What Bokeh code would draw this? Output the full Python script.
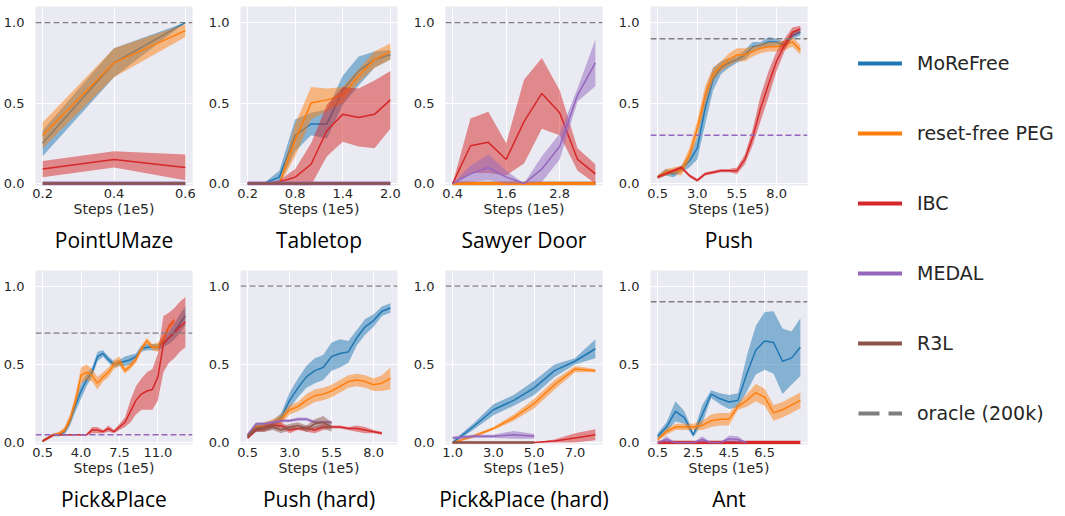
import numpy as np
from bokeh.plotting import figure
from bokeh.layouts import row, column
from bokeh.models import Range1d, Span, Title, Legend, LegendItem, NumeralTickFormatter
from bokeh.embed import file_html
from bokeh.resources import INLINE

METHODS = ["MoReFree", "reset-free PEG", "IBC", "MEDAL", "R3L"]
COLORS = {
    "MoReFree": "#1f77b4",
    "reset-free PEG": "#ff7f0e",
    "IBC": "#d62728",
    "MEDAL": "#9467bd",
    "R3L": "#8c564b",
}
ORACLE_LABEL = "oracle (200k)"
ORACLE_COLOR = "#7f7f7f"

# ---------------- PointUMaze ----------------
UMAZE_STEPS = [0.2, 0.4, 0.6]
UMAZE_TICKS = [0.2, 0.4, 0.6]
UMAZE_ORACLE = 1.0
UMAZE_MOREFREE = [0.25, 0.75, 1.00]
UMAZE_MOREFREE_STD = [0.08, 0.09, 0.0]
UMAZE_PEG = [0.30, 0.75, 0.95]
UMAZE_PEG_STD = [0.08, 0.09, 0.04]
UMAZE_IBC = [0.09, 0.15, 0.10]
UMAZE_IBC_STD = [0.05, 0.05, 0.08]
UMAZE_MEDAL = [0.0, 0.0, 0.0]
UMAZE_R3L = [0.0, 0.0, 0.0]

# ---------------- Tabletop ----------------
TABLETOP_STEPS = [0.2, 0.4, 0.6, 0.8, 1.0, 1.2, 1.4, 1.6, 1.8, 2.0]
TABLETOP_TICKS = [0.2, 0.8, 1.4, 2.0]
TABLETOP_ORACLE = None
TABLETOP_MOREFREE = [0.0, 0.0, 0.04, 0.30, 0.37, 0.37, 0.58, 0.70, 0.77, 0.80]
TABLETOP_MOREFREE_STD = [0.0, 0.0, 0.04, 0.10, 0.07, 0.09, 0.09, 0.09, 0.05, 0.03]
TABLETOP_PEG = [0.0, 0.0, 0.0, 0.27, 0.50, 0.52, 0.55, 0.67, 0.77, 0.82]
TABLETOP_PEG_STD = [0.0, 0.0, 0.01, 0.10, 0.10, 0.07, 0.05, 0.04, 0.05, 0.05]
TABLETOP_IBC = [0.0, 0.0, 0.01, 0.04, 0.12, 0.33, 0.43, 0.41, 0.43, 0.52]
TABLETOP_IBC_STD = [0.0, 0.0, 0.01, 0.05, 0.13, 0.16, 0.17, 0.18, 0.21, 0.18]
TABLETOP_MEDAL = [0.0] * 10
TABLETOP_R3L = [0.0] * 10

# ---------------- Sawyer Door ----------------
SAWYER_STEPS = [0.4, 0.8, 1.2, 1.6, 2.0, 2.4, 2.8, 3.2, 3.6]
SAWYER_TICKS = [0.4, 1.6, 2.8]
SAWYER_ORACLE = 1.0
SAWYER_MOREFREE = [0.0] * 9
SAWYER_PEG = [0.0] * 9
SAWYER_IBC = [0.0, 0.235, 0.256, 0.15, 0.385, 0.56, 0.44, 0.15, 0.06]
SAWYER_IBC_STD = [0.0, 0.17, 0.19, 0.10, 0.26, 0.22, 0.14, 0.07, 0.06]
SAWYER_MEDAL = [0.0, 0.06, 0.10, 0.04, 0.0, 0.09, 0.23, 0.55, 0.75]
SAWYER_MEDAL_STD = [0.0, 0.05, 0.08, 0.04, 0.0, 0.08, 0.08, 0.04, 0.145]

# ---------------- Push ----------------
PUSH_STEPS = [0.5, 1.0, 1.5, 2.0, 2.5, 3.0, 3.5, 4.0, 4.5, 5.0,
              5.5, 6.0, 6.5, 7.0, 7.5, 8.0, 8.5, 9.0, 9.5]
PUSH_TICKS = [0.5, 3.0, 5.5, 8.0]
PUSH_ORACLE = 0.9
PUSH_MEDAL_FINAL = 0.3
PUSH_MOREFREE = [0.04, 0.07, 0.06, 0.09, 0.14, 0.22, 0.47, 0.65, 0.72, 0.75,
                 0.77, 0.80, 0.85, 0.86, 0.88, 0.88, 0.86, 0.92, 0.94]
PUSH_MOREFREE_STD = [0.01, 0.02, 0.02, 0.02, 0.04, 0.07, 0.10, 0.07, 0.04, 0.03,
                     0.02, 0.03, 0.03, 0.02, 0.03, 0.02, 0.02, 0.02, 0.02]
PUSH_PEG = [0.04, 0.07, 0.08, 0.08, 0.18, 0.34, 0.55, 0.68, 0.73, 0.77,
            0.80, 0.80, 0.82, 0.84, 0.85, 0.85, 0.86, 0.88, 0.83]
PUSH_PEG_STD = [0.01, 0.02, 0.02, 0.03, 0.04, 0.05, 0.06, 0.04, 0.03, 0.04,
                0.04, 0.04, 0.03, 0.03, 0.03, 0.03, 0.03, 0.03, 0.03]
PUSH_IBC = [0.04, 0.06, 0.08, 0.10, 0.05, 0.02, 0.06, 0.07, 0.08, 0.08,
            0.08, 0.15, 0.29, 0.47, 0.62, 0.76, 0.86, 0.94, 0.96]
PUSH_IBC_STD = [0.01, 0.01, 0.01, 0.01, 0.01, 0.01, 0.01, 0.01, 0.01, 0.01,
                0.02, 0.03, 0.05, 0.08, 0.08, 0.06, 0.04, 0.03, 0.02]

# ---------------- Pick&Place ----------------
PICK_STEPS = [0.5, 1.0, 1.5, 2.0, 2.5, 3.0, 3.5, 4.0, 4.5, 5.0, 5.5, 6.0, 6.5, 7.0,
              7.5, 8.0, 8.5, 9.0, 9.5, 10.0, 10.5, 11.0, 11.5, 12.0, 12.5, 13.0, 13.5]
PICK_TICKS = [0.5, 4.0, 7.5, 11.0]
PICK_ORACLE = 0.7
PICK_MEDAL_FINAL = 0.05
PICK_MOREFREE = [0.01, 0.03, 0.05, 0.05, 0.07, 0.14, 0.24, 0.33, 0.40, 0.45, 0.55, 0.57, 0.53, 0.50,
                 0.51, 0.52, 0.53, 0.55, 0.60, 0.61, 0.61, 0.61, 0.64, 0.67, 0.71, 0.76, 0.81]
PICK_MOREFREE_STD = [0.01, 0.01, 0.01, 0.01, 0.02, 0.03, 0.04, 0.05, 0.04, 0.03, 0.03, 0.02, 0.02, 0.02,
                     0.02, 0.03, 0.03, 0.02, 0.02, 0.02, 0.02, 0.02, 0.03, 0.04, 0.05, 0.06, 0.06]
PICK_PEG = [0.01, 0.03, 0.05, 0.06, 0.08, 0.15, 0.27, 0.43, 0.45, 0.43, 0.38, 0.42, 0.45,
            0.50, 0.52, 0.46, 0.49, 0.53, 0.60, 0.65, 0.61, 0.61, 0.66, 0.74, 0.78]
PICK_PEG_STD = [0.01, 0.01, 0.01, 0.01, 0.02, 0.03, 0.04, 0.05, 0.05, 0.04, 0.04, 0.03, 0.03,
                0.03, 0.03, 0.02, 0.02, 0.02, 0.02, 0.02, 0.02, 0.03, 0.03, 0.02, 0.02]
PICK_IBC = [0.01, 0.03, 0.05, 0.05, 0.05, 0.05, 0.05, 0.05, 0.05, 0.08, 0.08, 0.07, 0.09, 0.07,
            0.10, 0.13, 0.20, 0.27, 0.31, 0.33, 0.34, 0.42, 0.63, 0.67, 0.70, 0.74, 0.77]
PICK_IBC_STD = [0.005, 0.005, 0.005, 0.005, 0.005, 0.005, 0.005, 0.005, 0.005, 0.02, 0.02, 0.01, 0.02, 0.01,
                0.02, 0.03, 0.07, 0.09, 0.10, 0.12, 0.13, 0.15, 0.18, 0.16, 0.16, 0.16, 0.16]

# ---------------- Push (hard) ----------------
PUSHH_STEPS = [0.5, 1.0, 1.5, 2.0, 2.5, 3.0, 3.5, 4.0, 4.5,
               5.0, 5.5, 6.0, 6.5, 7.0, 7.5, 8.0, 8.5, 9.0]
PUSHH_TICKS = [0.5, 3.0, 5.5, 8.0]
PUSHH_ORACLE = 1.0
PUSHH_MOREFREE = [0.04, 0.09, 0.10, 0.12, 0.16, 0.27, 0.35, 0.42, 0.46,
                  0.48, 0.55, 0.57, 0.58, 0.67, 0.74, 0.78, 0.84, 0.86]
PUSHH_MOREFREE_STD = [0.01, 0.02, 0.02, 0.02, 0.03, 0.05, 0.06, 0.07, 0.08,
                      0.08, 0.09, 0.09, 0.07, 0.05, 0.05, 0.04, 0.03, 0.03]
PUSHH_PEG = [0.05, 0.10, 0.11, 0.13, 0.15, 0.21, 0.23, 0.27, 0.30,
             0.31, 0.33, 0.36, 0.39, 0.40, 0.39, 0.37, 0.38, 0.41]
PUSHH_PEG_STD = [0.01, 0.02, 0.02, 0.02, 0.03, 0.03, 0.03, 0.04, 0.04,
                 0.04, 0.04, 0.04, 0.04, 0.04, 0.04, 0.04, 0.05, 0.07]
PUSHH_IBC = [0.03, 0.08, 0.09, 0.11, 0.11, 0.08, 0.09, 0.09, 0.08,
             0.10, 0.10, 0.10, 0.09, 0.09, 0.08, 0.07, 0.06]
PUSHH_IBC_STD = [0.01, 0.01, 0.02, 0.02, 0.02, 0.02, 0.01, 0.02, 0.02,
                 0.02, 0.01, 0.01, 0.01, 0.02, 0.02, 0.01, 0.01]
PUSHH_MEDAL = [0.05, 0.12, 0.12, 0.13, 0.14, 0.14, 0.15, 0.15, 0.13, 0.13, 0.13]
PUSHH_MEDAL_STD = [0.01, 0.01, 0.01, 0.01, 0.01, 0.01, 0.01, 0.01, 0.01, 0.01, 0.01]
PUSHH_R3L = [0.04, 0.09, 0.09, 0.10, 0.08, 0.10, 0.11, 0.09, 0.12, 0.13, 0.10]
PUSHH_R3L_STD = [0.01, 0.02, 0.02, 0.02, 0.02, 0.02, 0.02, 0.02, 0.03, 0.04, 0.03]

# ---------------- Pick&Place (hard) ----------------
PPH_STEPS = [1.0, 2.0, 3.0, 4.0, 5.0, 6.0, 7.0, 8.0]
PPH_TICKS = [1.0, 3.0, 5.0, 7.0]
PPH_ORACLE = 1.0
PPH_MOREFREE = [0.0, 0.10, 0.21, 0.27, 0.35, 0.46, 0.52, 0.60]
PPH_MOREFREE_STD = [0.01, 0.02, 0.035, 0.035, 0.045, 0.04, 0.02, 0.06]
PPH_PEG = [0.0, 0.04, 0.09, 0.16, 0.25, 0.37, 0.47, 0.46]
PPH_PEG_STD = [0.005, 0.01, 0.01, 0.02, 0.03, 0.03, 0.02, 0.01]
PPH_IBC = [0.0, 0.0, 0.0, 0.0, 0.0, 0.01, 0.03, 0.05]
PPH_IBC_STD = [0.0, 0.0, 0.0, 0.0, 0.0, 0.01, 0.03, 0.035]
PPH_MEDAL = [0.03, 0.04, 0.04, 0.05, 0.04]
PPH_MEDAL_STD = [0.01, 0.01, 0.01, 0.025, 0.015]
PPH_R3L = [0.0, 0.0, 0.0, 0.0, 0.0]

# ---------------- Ant ----------------
ANT_STEPS = [0.5, 1.0, 1.5, 2.0, 2.5, 3.0, 3.5, 4.0, 4.5,
             5.0, 5.5, 6.0, 6.5, 7.0, 7.5, 8.0, 8.5]
ANT_TICKS = [0.5, 2.5, 4.5, 6.5]
ANT_ORACLE = 0.9
ANT_MOREFREE = [0.04, 0.10, 0.20, 0.16, 0.05, 0.18, 0.31, 0.28, 0.26,
                0.27, 0.44, 0.59, 0.65, 0.64, 0.52, 0.54, 0.61]
ANT_MOREFREE_STD = [0.02, 0.03, 0.065, 0.04, 0.015, 0.06, 0.025, 0.035, 0.045,
                    0.045, 0.115, 0.155, 0.185, 0.20, 0.21, 0.17, 0.185]
ANT_PEG = [0.02, 0.07, 0.10, 0.10, 0.10, 0.11, 0.14, 0.15, 0.15,
           0.23, 0.27, 0.32, 0.29, 0.19, 0.21, 0.24, 0.27]
ANT_PEG_STD = [0.01, 0.02, 0.02, 0.02, 0.02, 0.03, 0.04, 0.04, 0.04,
               0.02, 0.04, 0.055, 0.055, 0.05, 0.05, 0.05, 0.05]
ANT_IBC = [0.0] * 17
ANT_MEDAL = [0.0, 0.02, 0.0, 0.0, 0.0, 0.02, 0.0, 0.0, 0.025, 0.02, 0.0]
ANT_MEDAL_STD = [0.0, 0.02, 0.0, 0.0, 0.0, 0.02, 0.0, 0.0, 0.02, 0.02, 0.0]

TASKS = [
    dict(title="PointUMaze", steps=UMAZE_STEPS, ticks=UMAZE_TICKS, oracle=UMAZE_ORACLE, medal_final=None,
         series=[("MoReFree", UMAZE_MOREFREE, UMAZE_MOREFREE_STD),
                 ("reset-free PEG", UMAZE_PEG, UMAZE_PEG_STD),
                 ("IBC", UMAZE_IBC, UMAZE_IBC_STD),
                 ("MEDAL", UMAZE_MEDAL, None),
                 ("R3L", UMAZE_R3L, None)]),
    dict(title="Tabletop", steps=TABLETOP_STEPS, ticks=TABLETOP_TICKS, oracle=TABLETOP_ORACLE, medal_final=None,
         series=[("MoReFree", TABLETOP_MOREFREE, TABLETOP_MOREFREE_STD),
                 ("reset-free PEG", TABLETOP_PEG, TABLETOP_PEG_STD),
                 ("IBC", TABLETOP_IBC, TABLETOP_IBC_STD),
                 ("MEDAL", TABLETOP_MEDAL, None),
                 ("R3L", TABLETOP_R3L, None)]),
    dict(title="Sawyer Door", steps=SAWYER_STEPS, ticks=SAWYER_TICKS, oracle=SAWYER_ORACLE, medal_final=None,
         series=[("MoReFree", SAWYER_MOREFREE, None),
                 ("reset-free PEG", SAWYER_PEG, None),
                 ("IBC", SAWYER_IBC, SAWYER_IBC_STD),
                 ("MEDAL", SAWYER_MEDAL, SAWYER_MEDAL_STD)]),
    dict(title="Push", steps=PUSH_STEPS, ticks=PUSH_TICKS, oracle=PUSH_ORACLE, medal_final=PUSH_MEDAL_FINAL,
         series=[("MoReFree", PUSH_MOREFREE, PUSH_MOREFREE_STD),
                 ("reset-free PEG", PUSH_PEG, PUSH_PEG_STD),
                 ("IBC", PUSH_IBC, PUSH_IBC_STD)]),
    dict(title="Pick&Place", steps=PICK_STEPS, ticks=PICK_TICKS, oracle=PICK_ORACLE, medal_final=PICK_MEDAL_FINAL,
         series=[("MoReFree", PICK_MOREFREE, PICK_MOREFREE_STD),
                 ("reset-free PEG", PICK_PEG, PICK_PEG_STD),
                 ("IBC", PICK_IBC, PICK_IBC_STD)]),
    dict(title="Push (hard)", steps=PUSHH_STEPS, ticks=PUSHH_TICKS, oracle=PUSHH_ORACLE, medal_final=None,
         series=[("MoReFree", PUSHH_MOREFREE, PUSHH_MOREFREE_STD),
                 ("reset-free PEG", PUSHH_PEG, PUSHH_PEG_STD),
                 ("IBC", PUSHH_IBC, PUSHH_IBC_STD),
                 ("MEDAL", PUSHH_MEDAL, PUSHH_MEDAL_STD),
                 ("R3L", PUSHH_R3L, PUSHH_R3L_STD)]),
    dict(title="Pick&Place (hard)", steps=PPH_STEPS, ticks=PPH_TICKS, oracle=PPH_ORACLE, medal_final=None,
         series=[("MoReFree", PPH_MOREFREE, PPH_MOREFREE_STD),
                 ("reset-free PEG", PPH_PEG, PPH_PEG_STD),
                 ("IBC", PPH_IBC, PPH_IBC_STD),
                 ("MEDAL", PPH_MEDAL, PPH_MEDAL_STD),
                 ("R3L", PPH_R3L, None)]),
    dict(title="Ant", steps=ANT_STEPS, ticks=ANT_TICKS, oracle=ANT_ORACLE, medal_final=None,
         series=[("MoReFree", ANT_MOREFREE, ANT_MOREFREE_STD),
                 ("reset-free PEG", ANT_PEG, ANT_PEG_STD),
                 ("IBC", ANT_IBC, None),
                 ("MEDAL", ANT_MEDAL, ANT_MEDAL_STD)]),
]

# Styling
BG = "#EAEAF2"
TEXT = "#262626"
PANEL_W = 205
FRAME_H = 179
LINE_W = 1.5
FLAT_W = {"MoReFree": 3.5, "reset-free PEG": 3.5, "IBC": 3.5, "MEDAL": 4.0, "R3L": 2.5}


def make_panel(task, height, top):
    steps = task["steps"]
    x0, x1 = steps[0], steps[-1]
    pad = 0.05 * (x1 - x0)
    p = figure(width=PANEL_W, height=height,
               x_range=Range1d(x0 - pad, x1 + pad), y_range=Range1d(-0.012, 1.1),
               output_backend="svg", toolbar_location=None, title_location=None,
               min_border_left=34, min_border_right=13,
               min_border_top=top, min_border_bottom=height - top - FRAME_H,
               background_fill_color=BG, border_fill_color="white",
               outline_line_color=None)

    for name, mean, std in task["series"]:
        color = COLORS[name]
        xs = steps[:len(mean)]
        m = np.asarray(mean, dtype=float)
        flat = std is None and not np.any(m)
        if std is not None:
            s = np.asarray(std, dtype=float)
            p.varea(x=xs, y1=m - s, y2=m + s, fill_color=color, fill_alpha=0.5)
        p.line(xs, m, line_color=color, line_width=FLAT_W[name] if flat else LINE_W)

    if task["oracle"] is not None:
        p.add_layout(Span(location=task["oracle"], dimension="width",
                          line_color=ORACLE_COLOR, line_dash="6 3", line_width=1.4))
    if task["medal_final"] is not None:
        p.add_layout(Span(location=task["medal_final"], dimension="width",
                          line_color=COLORS["MEDAL"], line_dash="6 3", line_width=1.4))

    p.xaxis.ticker = task["ticks"]
    p.yaxis.ticker = [0.0, 0.5, 1.0]
    p.xaxis.formatter = NumeralTickFormatter(format="0.0")
    p.yaxis.formatter = NumeralTickFormatter(format="0.0")
    p.xaxis.axis_label = "Steps (1e5)"

    for ax in (p.xaxis, p.yaxis):
        ax.axis_line_color = None
        ax.major_tick_line_color = None
        ax.minor_tick_line_color = None
        ax.major_label_text_font = "DejaVu Sans"
        ax.major_label_text_font_size = "13px"
        ax.major_label_text_color = TEXT
    p.xaxis.major_label_standoff = -3
    p.yaxis.major_label_standoff = 5
    p.xaxis.axis_label_text_font = "DejaVu Sans"
    p.xaxis.axis_label_text_font_size = "14px"
    p.xaxis.axis_label_text_font_style = "normal"
    p.xaxis.axis_label_text_color = TEXT
    p.xaxis.axis_label_standoff = 0

    p.grid.grid_line_color = "white"
    p.grid.grid_line_width = 1

    p.add_layout(Title(text=task["title"], align="center", text_font="Open Sans",
                       text_font_size="21px", text_font_style="normal",
                       text_color="black", standoff=8), "below")
    return p


top_row = [make_panel(t, 257, 6) for t in TASKS[:4]]
bottom_row = [make_panel(t, 259, 13) for t in TASKS[4:]]

# Legend panel
leg = figure(width=245, height=516, output_backend="svg", toolbar_location=None,
             title_location=None, x_range=Range1d(0, 1), y_range=Range1d(0, 1),
             min_border=0, outline_line_color=None, background_fill_color="white")
leg.axis.visible = False
leg.grid.visible = False
items = []
for name in METHODS:
    r = leg.line(x=[-2, -1], y=[-2, -1], line_color=COLORS[name], line_width=4, line_cap="round")
    items.append(LegendItem(label=name, renderers=[r]))
r = leg.line(x=[-2, -1], y=[-2, -1], line_color=ORACLE_COLOR, line_width=4, line_dash="21 9")
items.append(LegendItem(label=ORACLE_LABEL, renderers=[r]))
legend = Legend(items=items, location=(38, 92), glyph_width=44, glyph_height=22,
                label_height=22, label_width=20, spacing=48, label_standoff=15,
                padding=0, margin=0, border_line_color=None, background_fill_alpha=0,
                label_text_font="DejaVu Sans", label_text_font_size="19px",
                label_text_color=TEXT)
leg.add_layout(legend)

layout = row(column(row(*top_row), row(*bottom_row)), leg)

open("out.html", "w").write(file_html(layout, INLINE))
